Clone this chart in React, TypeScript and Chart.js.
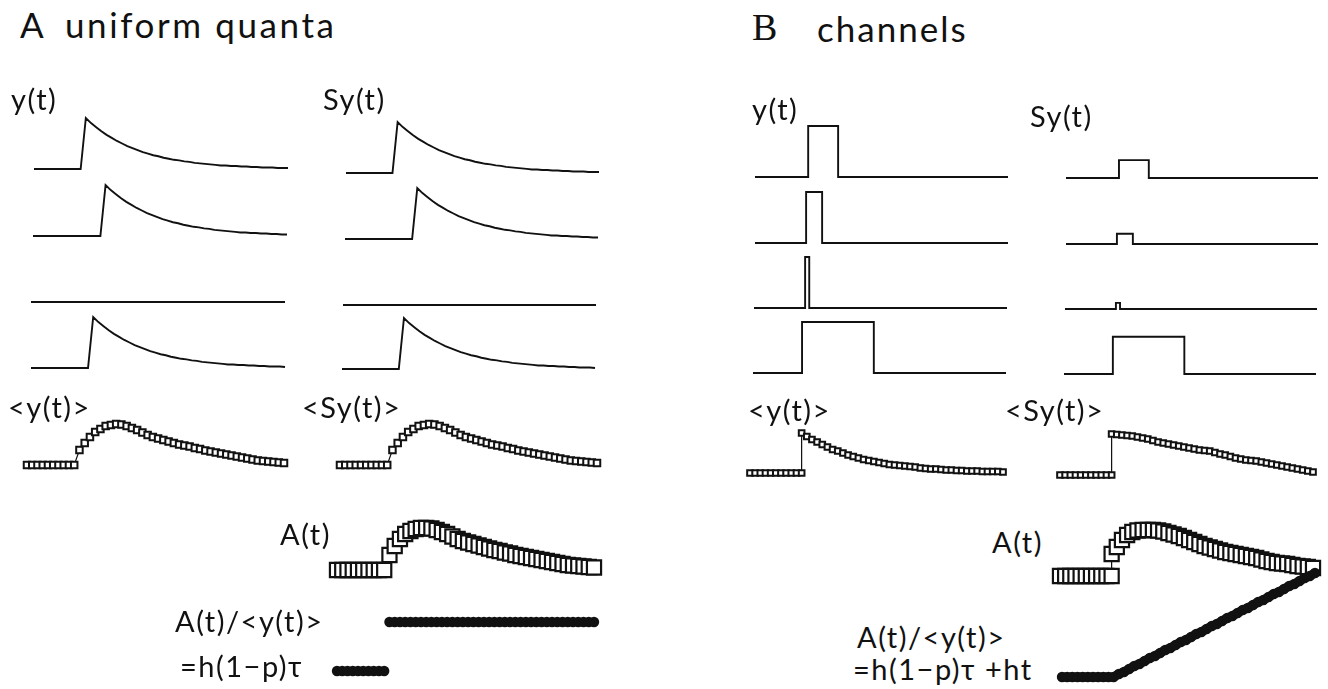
import React, { useEffect, useRef } from "react";
import { Chart, registerables } from "chart.js";

Chart.register(...registerables);

const INK = "#111111";
const PAD = 14;
const SANS = "Lato, 'Noto Sans', 'DejaVu Sans', sans-serif";
const SERIF = "'Liberation Serif', 'DejaVu Serif', serif";

// ---------- DATA ----------
// sample index grid (50 samples per sweep)
const SAMPLES = 50;
const STEP_AT = 10; // sample where channel averages jump

// Panel A: single quantal responses y(t) (normalised to peak = 1)
const yTrace1 = [
  0, 0, 0, 0, 0, 0, 0, 0, 0, 0,
  1.0, 0.9, 0.82, 0.74, 0.67, 0.61, 0.55, 0.5, 0.45, 0.41,
  0.37, 0.33, 0.3, 0.27, 0.25, 0.22, 0.2, 0.18, 0.17, 0.15,
  0.14, 0.12, 0.11, 0.1, 0.09, 0.08, 0.07, 0.07, 0.06, 0.06,
  0.05, 0.05, 0.04, 0.04, 0.03, 0.03, 0.03, 0.02, 0.02, 0.02,
];
const yTrace2 = [
  0, 0, 0, 0, 0, 0, 0, 0, 0, 0,
  0, 0, 0, 0, 1.0, 0.9, 0.82, 0.74, 0.67, 0.61,
  0.55, 0.5, 0.45, 0.41, 0.37, 0.33, 0.3, 0.27, 0.25, 0.22,
  0.2, 0.18, 0.17, 0.15, 0.14, 0.12, 0.11, 0.1, 0.09, 0.08,
  0.07, 0.07, 0.06, 0.06, 0.05, 0.05, 0.04, 0.04, 0.03, 0.03,
];
const yTrace3 = [
  0, 0, 0, 0, 0, 0, 0, 0, 0, 0,
  0, 0, 0, 0, 0, 0, 0, 0, 0, 0,
  0, 0, 0, 0, 0, 0, 0, 0, 0, 0,
  0, 0, 0, 0, 0, 0, 0, 0, 0, 0,
  0, 0, 0, 0, 0, 0, 0, 0, 0, 0,
];
const yTrace4 = [
  0, 0, 0, 0, 0, 0, 0, 0, 0, 0,
  0, 0, 1.0, 0.9, 0.82, 0.74, 0.67, 0.61, 0.55, 0.5,
  0.45, 0.41, 0.37, 0.33, 0.3, 0.27, 0.25, 0.22, 0.2, 0.18,
  0.17, 0.15, 0.14, 0.12, 0.11, 0.1, 0.09, 0.08, 0.07, 0.07,
  0.06, 0.06, 0.05, 0.05, 0.04, 0.04, 0.03, 0.03, 0.03, 0.02,
];
// uniform quanta: S y(t) identical to y(t)
const syTraceA = [yTrace1, yTrace2, yTrace3, yTrace4];
const yTraceA = [yTrace1, yTrace2, yTrace3, yTrace4];

// Panel A averages (arbitrary units)
const meanYA = [
  0, 0, 0, 0, 0, 0, 0, 0, 0, 0,
  15, 22, 28, 33, 36, 39, 40, 41, 40.5, 39,
  37, 35, 32.5, 30, 28, 26.5, 25, 23.5, 22, 20.5,
  19.5, 18.5, 17, 16, 14.5, 13.5, 12.5, 11.5, 10.5, 9.5,
  8.5, 7.5, 6.5, 5.5, 4.5, 4, 3.5, 3, 2.5, 2,
];
const meanSyA = [
  0, 0, 0, 0, 0, 0, 0, 0, 0, 0,
  15, 22, 28, 33, 36, 39, 40, 41, 40.5, 39,
  37, 35, 32.5, 30, 28, 26.5, 25, 23.5, 22, 20.5,
  19.5, 18.5, 17, 16, 14.5, 13.5, 12.5, 11.5, 10.5, 9.5,
  8.5, 7.5, 6.5, 5.5, 4.5, 4, 3.5, 3, 2.5, 2,
];
const ampA = [
  0, 0, 0, 0, 0, 0, 0, 0, 0, 0,
  15, 24, 31, 36, 39, 41, 42, 42, 41.5, 40,
  38, 36, 33.5, 31, 29, 27.5, 26, 24.5, 23, 21.5,
  20, 19, 17.5, 16.5, 15, 14, 13, 12, 11, 10,
  9, 8, 7, 6, 5, 4.5, 4, 3.5, 3, 2.5,
];
const ratioA = [
  0, 0, 0, 0, 0, 0, 0, 0, 0, 0,
  1, 1, 1, 1, 1, 1, 1, 1, 1, 1,
  1, 1, 1, 1, 1, 1, 1, 1, 1, 1,
  1, 1, 1, 1, 1, 1, 1, 1, 1, 1,
  1, 1, 1, 1, 1, 1, 1, 1, 1, 1,
];

// Panel B: channel openings (sample units) and amplitudes
const pulseOn = [10.3, 9.9, 9.9, 9.5];
const pulseOff = [16.1, 13.0, 10.7, 23.4];
const yPulseAmp = [1, 1, 1, 1];
const syPulseAmp = [0.35, 0.2, 0.12, 0.73];

// Panel B averages: value at STEP_AT before the jump, then 40 values from STEP_AT on
const meanYB = [
  0, 0, 0, 0, 0, 0, 0, 0, 0, 0, 0,
  40, 36.5, 33.5, 31, 28.5, 26, 23.5, 22, 20, 18,
  16.5, 15, 13.5, 12.5, 11.5, 10.5, 9.5, 8.5, 8, 7.5,
  7, 6.5, 6, 5, 4.5, 4, 4, 3.5, 3, 3,
  2.5, 2.5, 2, 2, 2, 1.5, 1.5, 1.5, 1.5, 1,
];
const meanSyB = [
  0, 0, 0, 0, 0, 0, 0, 0, 0, 0, 0,
  41, 40.5, 40, 39.5, 39, 38, 37, 36, 34.5, 33,
  32, 31, 30, 29, 28, 27, 26, 25, 24.5, 24,
  22.5, 21, 20, 18.5, 17, 16, 15, 14.5, 14, 13,
  12, 11, 10, 9, 8, 7, 6, 5, 4, 3,
];
const ampB = [
  0, 0, 0, 0, 0, 0, 0, 0, 0, 0, 0,
  22, 29, 36, 41, 44, 45.5, 46, 46, 46, 45.5,
  44.5, 43, 41.5, 40, 38, 36, 34, 32, 30, 28.5,
  27, 25.5, 24, 23, 22, 21, 20, 19, 18, 16.5,
  15, 14, 13, 12.5, 12, 11, 10, 9.5, 9, 8,
];
const ratioB = [
  0, 0, 0, 0, 0, 0, 0, 0, 0, 0,
  0, 3, 5, 8, 11, 13, 16, 19, 21, 24,
  27, 29, 32, 35, 37, 40, 43, 45, 48, 51,
  53, 56, 59, 61, 64, 67, 69, 72, 75, 77,
  80, 83, 85, 88, 91, 93, 96, 99, 101, 104,
];

// ---------- helpers ----------
type Pt = { x: number; y: number };
const grid = (n: number, from = 0) => Array.from({ length: n }, (_, i) => i + from);
const T = grid(SAMPLES);
const T_STEP = [...grid(STEP_AT + 1), ...grid(SAMPLES - STEP_AT, STEP_AT)];
const pts = (vals: number[], times: number[]): Pt[] => vals.map((v, i) => ({ x: times[i], y: v }));
const pulsePts = (on: number, off: number, amp: number): Pt[] => [
  { x: 0, y: 0 },
  { x: on, y: 0 },
  { x: on, y: amp },
  { x: off, y: amp },
  { x: off, y: 0 },
  { x: SAMPLES - 1, y: 0 },
];

const traceDs = (data: Pt[]) => ({
  data,
  borderColor: INK,
  borderWidth: 1.9,
  pointRadius: 0,
  tension: 0,
  clip: false as any,
});
const squareDs = (data: Pt[], r: number, bw: number) => ({
  data,
  borderColor: INK,
  borderWidth: 1.2,
  pointRadius: r,
  pointStyle: "rect",
  pointBackgroundColor: "#ffffff",
  pointBorderColor: INK,
  pointBorderWidth: bw,
  tension: 0,
  clip: false as any,
});
const dotDs = (data: Pt[], line: boolean) => ({
  data,
  showLine: line,
  borderColor: INK,
  borderWidth: 9,
  borderCapStyle: "round",
  borderJoinStyle: "round",
  pointRadius: 5.2,
  pointStyle: "circle",
  pointBackgroundColor: INK,
  pointBorderColor: INK,
  pointBorderWidth: 0,
  tension: 0,
  clip: false as any,
});

type PanelSpec = {
  id: string;
  x0: number; // page x of first sample
  base: number; // page y of zero
  width: number; // px spanned by the sweep
  height: number; // px spanned by yMax
  yMax: number;
  datasets: any[];
};

function Panel({ spec }: { spec: PanelSpec }) {
  const ref = useRef<HTMLCanvasElement | null>(null);
  useEffect(() => {
    if (!ref.current) return;
    const chart = new Chart(ref.current, {
      type: "line",
      data: { datasets: spec.datasets },
      options: {
        animation: false,
        responsive: false,
        maintainAspectRatio: false,
        events: [],
        layout: { padding: PAD },
        plugins: { legend: { display: false }, tooltip: { enabled: false } },
        scales: {
          x: { type: "linear", display: false, min: 0, max: SAMPLES - 1 },
          y: { type: "linear", display: false, min: 0, max: spec.yMax },
        },
      },
    });
    return () => chart.destroy();
  }, [spec]);
  const w = spec.width + 2 * PAD;
  const h = spec.height + 2 * PAD;
  return (
    <canvas
      ref={ref}
      width={w}
      height={h}
      style={{
        position: "absolute",
        left: spec.x0 - PAD,
        top: spec.base - spec.height - PAD,
        width: w,
        height: h,
      }}
    />
  );
}

type LabelSpec = { text: string; x: number; baseline: number; size: number; serif?: boolean; spacing?: number };

function Label({ l }: { l: LabelSpec }) {
  const asc = l.serif ? 0.8375 : 0.887;
  return (
    <div
      style={{
        position: "absolute",
        left: l.x,
        top: l.baseline - asc * l.size,
        fontFamily: l.serif ? SERIF : SANS,
        fontSize: l.size,
        lineHeight: `${l.size}px`,
        letterSpacing: l.spacing ?? 0,
        color: INK,
        whiteSpace: "pre",
      }}
    >
      {l.text}
    </div>
  );
}

// ---------- layout ----------
const A_Y_POS = [
  [34, 169],
  [33, 236],
  [31, 302],
  [31, 368],
];
const A_SY_POS = [
  [346, 173],
  [345, 239],
  [343, 305],
  [342, 369],
];
const B_Y_POS = [
  [755, 177],
  [755, 243],
  [754, 308],
  [753, 373],
];
const B_SY_POS = [
  [1066, 178],
  [1066, 244],
  [1065, 309],
  [1064, 374],
];
const TRACE_H = 51;

const panels: PanelSpec[] = [
  ...yTraceA.map((v, i) => ({
    id: `ay${i}`, x0: A_Y_POS[i][0], base: A_Y_POS[i][1], width: 254, height: TRACE_H, yMax: 1,
    datasets: [traceDs(pts(v, T))],
  })),
  ...syTraceA.map((v, i) => ({
    id: `asy${i}`, x0: A_SY_POS[i][0], base: A_SY_POS[i][1], width: 253, height: TRACE_H, yMax: 1,
    datasets: [traceDs(pts(v, T))],
  })),
  ...pulseOn.map((on, i) => ({
    id: `by${i}`, x0: B_Y_POS[i][0], base: B_Y_POS[i][1], width: 253, height: TRACE_H, yMax: 1,
    datasets: [traceDs(pulsePts(on, pulseOff[i], yPulseAmp[i]))],
  })),
  ...pulseOn.map((on, i) => ({
    id: `bsy${i}`, x0: B_SY_POS[i][0], base: B_SY_POS[i][1], width: 252, height: TRACE_H, yMax: 1,
    datasets: [traceDs(pulsePts(on, pulseOff[i], syPulseAmp[i]))],
  })),
  { id: "amy", x0: 27, base: 465, width: 257, height: 45, yMax: 45, datasets: [squareDs(pts(meanYA, T), 4.6, 2)] },
  { id: "amsy", x0: 340, base: 465, width: 257, height: 45, yMax: 45, datasets: [squareDs(pts(meanSyA, T), 4.6, 2)] },
  { id: "aA", x0: 337, base: 570, width: 257, height: 50, yMax: 50, datasets: [squareDs(pts(ampA, T), 10, 2.2)] },
  { id: "aR", x0: 337, base: 671, width: 257, height: 49, yMax: 1, datasets: [dotDs(pts(ratioA, T), false)] },
  { id: "bmy", x0: 750, base: 473, width: 253, height: 45, yMax: 45, datasets: [squareDs(pts(meanYB, T_STEP), 4, 2)] },
  { id: "bmsy", x0: 1060, base: 475, width: 253, height: 45, yMax: 45, datasets: [squareDs(pts(meanSyB, T_STEP), 4, 2)] },
  { id: "bA", x0: 1060, base: 576, width: 253, height: 50, yMax: 50, datasets: [squareDs(pts(ampB, T_STEP), 10, 2.2)] },
  { id: "bR", x0: 1062, base: 677, width: 253, height: 110, yMax: 110, datasets: [dotDs(pts(ratioB, T), true)] },
];

const LS = 29;
const labels: LabelSpec[] = [
  { text: "A", x: 20, baseline: 38, size: 35, spacing: 2.5 },
  { text: "uniform quanta", x: 65, baseline: 38, size: 35, spacing: 2.6 },
  { text: "B", x: 752, baseline: 40, size: 38, serif: true },
  { text: "channels", x: 817, baseline: 42, size: 35, spacing: 2 },
  { text: "y(t)", x: 11, baseline: 110, size: LS, spacing: 1.5 },
  { text: "Sy(t)", x: 323, baseline: 110, size: LS, spacing: 1.5 },
  { text: "<y(t)>", x: 8, baseline: 418, size: LS, spacing: 1.5 },
  { text: "<Sy(t)>", x: 302, baseline: 418, size: LS, spacing: 1.5 },
  { text: "A(t)", x: 280, baseline: 545, size: LS, spacing: 1.5 },
  { text: "A(t)/<y(t)>", x: 175, baseline: 632, size: LS, spacing: 1.5 },
  { text: "=h(1\u2212p)\u03c4", x: 180, baseline: 677, size: LS, spacing: 1.5 },
  { text: "y(t)", x: 752, baseline: 120, size: LS, spacing: 1.5 },
  { text: "Sy(t)", x: 1030, baseline: 127, size: LS, spacing: 1.5 },
  { text: "<y(t)>", x: 748, baseline: 421, size: LS, spacing: 1.5 },
  { text: "<Sy(t)>", x: 1005, baseline: 421, size: LS, spacing: 1.5 },
  { text: "A(t)", x: 992, baseline: 553, size: LS, spacing: 1.5 },
  { text: "A(t)/<y(t)>", x: 857, baseline: 648, size: LS, spacing: 1.5 },
  { text: "=h(1\u2212p)\u03c4 +ht", x: 853, baseline: 680, size: LS, spacing: 1.5 },
];

export default function App() {
  return (
    <div
      style={{
        position: "absolute",
        left: 0,
        top: 0,
        width: 1328,
        height: 689,
        background: "#ffffff",
        overflow: "hidden",
      }}
    >
      {panels.map((p) => (
        <Panel key={p.id} spec={p} />
      ))}
      {labels.map((l, i) => (
        <Label key={i} l={l} />
      ))}
    </div>
  );
}
